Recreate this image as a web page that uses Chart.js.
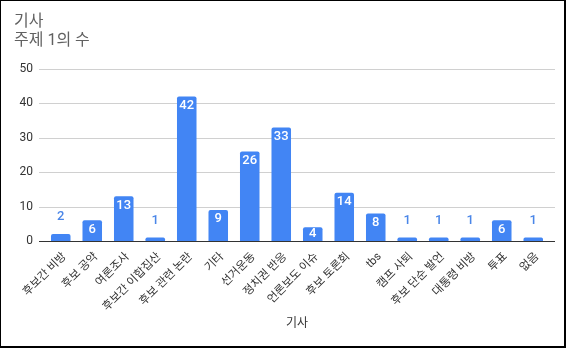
<!DOCTYPE html>
<html>
<head>
<meta charset="utf-8">
<script src="https://cdn.jsdelivr.net/npm/chart.js@4"></script>
<style>
  html, body { margin: 0; padding: 0; background: #fff; }
  #wrap { position: relative; width: 566px; height: 348px; }
  #frame { position: absolute; left: 0; top: 0; width: 566px; height: 348px; box-sizing: border-box;
           border-style: solid; border-color: #000; border-width: 1px 2px 2px 1px; pointer-events: none; }
</style>
</head>
<body>
<div id="wrap">
  <canvas id="chart" width="566" height="348"></canvas>
  <div id="frame"></div>
</div>
<script>
const categories = ["후보간 비방", "후보 공약", "여론조사", "후보간 이합집산", "후보 관련 논란", "기타", "선거운동", "정치권 반응",
  "언론보도 이슈", "후보 토론회", "tbs", "캠프 사퇴", "후보 단순 발언", "대통령 비방", "투표", "없음"];
const counts = [2, 6, 13, 1, 42, 9, 26, 33, 4, 14, 8, 1, 1, 1, 6, 1];
const yTicks = [0, 10, 20, 30, 40, 50];

const FONT = 'Roboto, "Noto Sans CJK KR", sans-serif';
Chart.defaults.font.family = FONT;

// 가로 눈금선 (차트 영역보다 약간 넓게)
const gridPlugin = {
  id: 'grid',
  beforeDatasetsDraw(chart) {
    const { ctx, chartArea, scales } = chart;
    ctx.save();
    ctx.lineWidth = 1;
    yTicks.forEach(v => {
      if (v === 0) return;
      const y = Math.round(scales.y.getPixelForValue(v)) + 0.5;
      ctx.strokeStyle = '#d0d0d0';
      ctx.beginPath();
      ctx.moveTo(chartArea.left - 6, y);
      ctx.lineTo(chartArea.right + 6, y);
      ctx.stroke();
    });
    ctx.restore();
  },
  afterDatasetsDraw(chart) {
    const { ctx, chartArea, scales } = chart;
    const y = Math.round(scales.y.getPixelForValue(0)) + 0.5;
    ctx.save();
    ctx.strokeStyle = '#333';
    ctx.lineWidth = 1;
    ctx.beginPath();
    ctx.moveTo(chartArea.left - 6, y);
    ctx.lineTo(chartArea.right + 6, y);
    ctx.stroke();
    ctx.restore();
  }
};

// 막대 값 표시
const valuePlugin = {
  id: 'values',
  afterDatasetsDraw(chart) {
    const { ctx } = chart;
    const meta = chart.getDatasetMeta(0);
    ctx.save();
    ctx.font = '500 13px ' + FONT;
    ctx.textAlign = 'center';
    ctx.textBaseline = 'middle';
    meta.data.forEach((bar, i) => {
      const v = counts[i];
      if (v <= 2) {
        ctx.fillStyle = '#4a86e8';
        ctx.fillText(String(v), bar.x, bar.y - 17);
      } else {
        ctx.fillStyle = '#fff';
        const y = Math.min(bar.y + 9, (bar.y + bar.base) / 2);
        ctx.fillText(String(v), bar.x, y);
      }
    });
    ctx.restore();
  }
};

new Chart(document.getElementById('chart'), {
  type: 'bar',
  data: {
    labels: categories,
    datasets: [{
      label: '기사',
      data: counts,
      backgroundColor: '#4285f4',
      borderRadius: { topLeft: 2, topRight: 2 },
      borderSkipped: 'bottom',
      categoryPercentage: 1,
      barPercentage: 0.62
    }]
  },
  options: {
    responsive: false,
    animation: false,
    layout: { padding: { left: 14, right: 17, top: 12, bottom: 10 } },
    plugins: {
      legend: { display: false },
      tooltip: { enabled: false },
      title: {
        display: true,
        text: ['기사', '주제 1의 수'],
        align: 'start',
        color: '#616161',
        font: { size: 16, weight: 'normal', lineHeight: 1.2 },
        padding: { top: 0, bottom: 18.6 }
      }
    },
    scales: {
      x: {
        grid: { display: false, drawTicks: false },
        border: { display: false },
        ticks: {
          color: '#333',
          font: { size: 11.5 },
          minRotation: 45,
          maxRotation: 45,
          autoSkip: false,
          padding: 9,
          labelOffset: 4
        },
        title: {
          display: true,
          text: '기사',
          color: '#333',
          font: { size: 12 },
          padding: { top: 0, bottom: 7 }
        },
        afterFit(scale) { scale.height = 97; }
      },
      y: {
        min: 0,
        max: 50,
        grid: { display: false, drawTicks: false },
        border: { display: false },
        afterBuildTicks(scale) { scale.ticks = yTicks.map(v => ({ value: v })); },
        ticks: {
          color: '#333',
          font: { size: 12 },
          padding: 12
        },
        afterFit(scale) { scale.width = 31; }
      }
    }
  },
  plugins: [gridPlugin, valuePlugin]
});
</script>
</body>
</html>
